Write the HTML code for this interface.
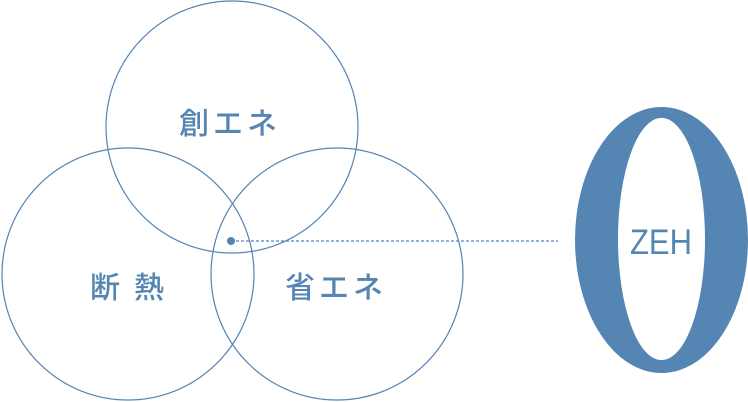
<!DOCTYPE html>
<html><head><meta charset="utf-8"><style>
html,body{margin:0;padding:0;background:#fff;}
svg{display:block;}
</style></head><body>
<svg width="748" height="402" viewBox="0 0 748 402" xmlns="http://www.w3.org/2000/svg">
<g fill="none" stroke="#5585b3" stroke-width="1.2">
<circle cx="232" cy="127" r="126"/>
<circle cx="128" cy="274" r="126"/>
<circle cx="337" cy="274" r="126"/>
</g>
<line x1="231" y1="241" x2="558" y2="241" stroke="#5585b3" stroke-width="1.2" stroke-dasharray="3,2"/>
<circle cx="231" cy="241" r="4" fill="#5585b3"/>
<g font-family="'Liberation Sans','Noto Sans CJK JP',sans-serif" font-size="30" fill="#5585b3" font-weight="500">
<text x="179" y="134" letter-spacing="4">創エネ</text>
<text x="90" y="298" letter-spacing="14">断熱</text>
<text x="285" y="298" letter-spacing="4">省エネ</text>
</g>
<path fill-rule="evenodd" fill="#5585b3" d="M575,240 a86.5,133 0 1,0 173,0 a86.5,133 0 1,0 -173,0 Z M618,239 a43.5,121 0 1,0 87,0 a43.5,121 0 1,0 -87,0 Z"/>
<text x="630" y="254" font-family="'Liberation Sans',sans-serif" font-size="35" fill="#5585b3" textLength="62" lengthAdjust="spacingAndGlyphs">ZEH</text>
</svg>
</body></html>
